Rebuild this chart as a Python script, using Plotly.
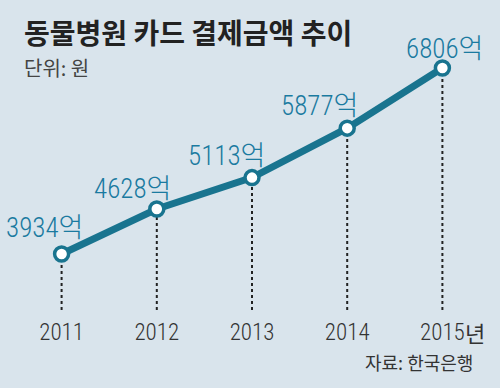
import plotly.graph_objects as go

years = [2011, 2012, 2013, 2014, 2015]
values = [3934, 4628, 5113, 5877, 6806]
value_labels = ["3934억", "4628억", "5113억", "5877억", "6806억"]
tick_labels = ["2011", "2012", "2013", "2014", "2015"]

title = "동물병원 카드 결제금액 추이"
subtitle = "단위: 원"
source = "자료: 한국은행"

BG = "#d9e4ec"
LINE = "#19748f"
LABEL = "#1a7aa0"
NUM_FONT = "Roboto Condensed, Liberation Sans, Noto Sans CJK KR"
KR_FONT = "Noto Sans CJK KR"

y_min, y_max = 3069, 7238

fig = go.Figure()

fig.add_trace(go.Scatter(
    x=years, y=values, mode="lines+markers",
    line=dict(color=LINE, width=7),
    marker=dict(size=14, color="white", line=dict(color=LINE, width=3.5)),
    hoverinfo="skip", showlegend=False,
))

shapes = []
for x, v in zip(years, values):
    shapes.append(dict(type="line", xref="x", yref="y", x0=x, x1=x, y0=y_min, y1=v,
                       line=dict(color="#222222", width=2, dash="dot"), layer="below"))

label_shift = [(-17, 26), (-24, 20), (-26, 22), (-28, 22), (2, 19)]
ann = []
for (x, v, t), (dx, dy) in zip(zip(years, values, value_labels), label_shift):
    ann.append(dict(x=x, y=v, xref="x", yref="y", text=t, showarrow=False,
                    xshift=dx, yshift=dy,
                    font=dict(family=NUM_FONT, size=27, color=LABEL, weight=300)))

ann += [
    dict(x=0, y=1, xref="paper", yref="paper", xanchor="left", yanchor="middle",
         text=f"<b>{title}</b>", showarrow=False, xshift=8, yshift=8,
         font=dict(family=KR_FONT, size=28, color="#222222")),
    dict(x=0, y=1, xref="paper", yref="paper", xanchor="left", yanchor="middle",
         text=subtitle, showarrow=False, xshift=8, yshift=-27,
         font=dict(family=KR_FONT, size=20, color="#444444")),
    dict(x=2015, y=y_min, xref="x", yref="y", xanchor="left", yanchor="middle",
         text="년", showarrow=False, xshift=21, yshift=-22,
         font=dict(family=KR_FONT, size=22, color="#333333")),
    dict(x=1, y=0, xref="paper", yref="paper", xanchor="right", yanchor="middle",
         text=source, showarrow=False, xshift=-15, yshift=-52,
         font=dict(family=KR_FONT, size=18, color="#333333")),
]

fig.update_layout(
    width=500, height=388,
    margin=dict(l=14, r=10, t=40, b=78),
    paper_bgcolor=BG, plot_bgcolor=BG,
    xaxis=dict(range=[2010.5, 2015.5], tickvals=years, ticktext=tick_labels,
               showgrid=False, zeroline=False, showline=False, ticks="",
               ticklabelstandoff=6,
               tickfont=dict(family=NUM_FONT, size=23, color="#333333", weight=300)),
    yaxis=dict(range=[y_min, y_max], visible=False),
    shapes=shapes,
    annotations=ann,
)

fig.write_html("out.html", config={"displayModeBar": False},
               post_script="document.body.style.margin='0';document.body.style.background='%s';" % BG)
